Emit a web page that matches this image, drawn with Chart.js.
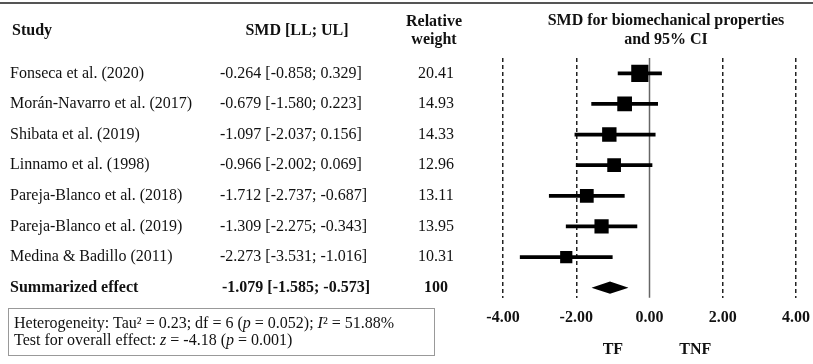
<!DOCTYPE html>
<html>
<head>
<meta charset="utf-8">
<script src="https://cdn.jsdelivr.net/npm/chart.js@4.4.0/dist/chart.umd.min.js"></script>
<style>
  html, body { margin: 0; padding: 0; background: #fff; }
  canvas { display: block; }
</style>
</head>
<body>
<canvas id="forest" width="813" height="364"></canvas>
<script>
// study rows
const studies = [
  'Fonseca et al. (2020)',
  'Morán-Navarro et al. (2017)',
  'Shibata et al. (2019)',
  'Linnamo et al. (1998)',
  'Pareja-Blanco et al. (2018)',
  'Pareja-Blanco et al. (2019)',
  'Medina & Badillo (2011)'
];
const smd = [-0.264, -0.679, -1.097, -0.966, -1.712, -1.309, -2.273];
const lower = [-0.858, -1.580, -2.037, -2.002, -2.737, -2.275, -3.531];
const upper = [0.329, 0.223, 0.156, 0.069, -0.687, -0.343, -1.016];
const weights = [20.41, 14.93, 14.33, 12.96, 13.11, 13.95, 10.31];

// pooled row
const summaryLabel = 'Summarized effect';
const summarySmd = -1.079;
const summaryLower = -1.585;
const summaryUpper = -0.573;
const summaryWeight = 100;

const xTicks = [-4, -2, 0, 2, 4];
const sideLabels = ['TF', 'TNF'];

const SERIF = '"Liberation Serif", "Times New Roman", serif';
const summaryRow = studies.length;
const fmt = v => v.toFixed(3);

function runs(ctx, parts, x, y, size) {
  // draws text pieces one after another, some in italic
  parts.forEach(([s, it]) => {
    ctx.font = (it ? 'italic ' : '') + size + 'px ' + SERIF;
    ctx.fillText(s, x, y);
    x += ctx.measureText(s).width;
  });
}

const tablePlugin = {
  id: 'tablePlugin',
  afterDraw(chart) {
    const ctx = chart.ctx;
    const ys = chart.scales.y;
    const xs = chart.scales.x;
    ctx.save();
    ctx.fillStyle = '#111';
    ctx.textBaseline = 'middle';

    // top rule
    ctx.strokeStyle = '#555';
    ctx.lineWidth = 2;
    ctx.beginPath();
    ctx.moveTo(0, 3);
    ctx.lineTo(813, 3);
    ctx.stroke();

    // headers
    ctx.font = 'bold 16px ' + SERIF;
    ctx.textAlign = 'left';
    ctx.fillText('Study', 12, 31);
    ctx.textAlign = 'center';
    ctx.fillText('SMD [LL; UL]', 297, 31);
    ctx.fillText('Relative', 434, 22);
    ctx.fillText('weight', 434, 40);
    ctx.fillText('SMD for biomechanical properties', 666, 21);
    ctx.fillText('and 95% CI', 666, 40);

    // study rows
    studies.forEach((s, i) => {
      const y = ys.getPixelForValue(i);
      ctx.font = '16px ' + SERIF;
      ctx.textAlign = 'left';
      ctx.fillText(s, 10, y);
      ctx.fillText(fmt(smd[i]) + ' [' + fmt(lower[i]) + '; ' + fmt(upper[i]) + ']', 220, y);
      ctx.textAlign = 'center';
      ctx.fillText(weights[i].toFixed(2), 436, y);
    });

    const sy = ys.getPixelForValue(summaryRow);
    ctx.font = 'bold 16px ' + SERIF;
    ctx.textAlign = 'left';
    ctx.fillText(summaryLabel, 10, sy);
    ctx.fillText(fmt(summarySmd) + ' [' + fmt(summaryLower) + '; ' + fmt(summaryUpper) + ']', 222, sy);
    ctx.textAlign = 'center';
    ctx.fillText(String(summaryWeight), 436, sy);

    // favours labels under the axis
    ctx.font = 'bold 16px ' + SERIF;
    ctx.fillText(sideLabels[0], xs.getPixelForValue(-1.0), 350);
    ctx.fillText(sideLabels[1], xs.getPixelForValue(1.25), 350);

    // heterogeneity box
    ctx.strokeStyle = '#999';
    ctx.lineWidth = 1;
    ctx.strokeRect(8.5, 308.5, 426, 47);
    ctx.textAlign = 'left';
    runs(ctx, [['Heterogeneity: Tau² = 0.23; df = 6 (', false], ['p', true], [' = 0.052); ', false], ['I', true], ['² = 51.88%', false]], 14, 324, 16);
    runs(ctx, [['Test for overall effect: ', false], ['z', true], [' = -4.18 (', false], ['p', true], [' = 0.001)', false]], 14, 341, 16);
    ctx.restore();
  }
};

new Chart(document.getElementById('forest'), {
  type: 'scatter',
  data: {
    datasets: [
      {
        type: 'scatter',
        label: 'SMD',
        data: studies.map((s, i) => ({ x: smd[i], y: i })),
        pointStyle: 'rect',
        pointRadius: weights.map(w => Math.sqrt(w) * 2.69),
        pointHoverRadius: weights.map(w => Math.sqrt(w) * 2.69),
        backgroundColor: '#000',
        borderWidth: 0,
        order: 0
      },
      {
        type: 'bar',
        label: '95% CI',
        indexAxis: 'y',
        data: studies.map((s, i) => ({ x: [lower[i], upper[i]], y: i })),
        backgroundColor: '#000',
        barThickness: 3,
        order: 1
      },
      {
        type: 'line',
        label: 'pooled top',
        data: [
          { x: summaryLower, y: summaryRow },
          { x: summarySmd, y: summaryRow - 0.2 },
          { x: summaryUpper, y: summaryRow }
        ],
        borderWidth: 0,
        pointRadius: 0,
        backgroundColor: '#000',
        fill: '+1',
        order: 2
      },
      {
        type: 'line',
        label: 'pooled bottom',
        data: [
          { x: summaryLower, y: summaryRow },
          { x: summarySmd, y: summaryRow + 0.2 },
          { x: summaryUpper, y: summaryRow }
        ],
        borderWidth: 0,
        pointRadius: 0,
        backgroundColor: '#000',
        fill: false,
        order: 3
      },
      {
        type: 'line',
        label: 'no effect',
        data: [{ x: 0, y: -0.6 }, { x: 0, y: 7.4 }],
        borderColor: '#666',
        borderWidth: 1.5,
        pointRadius: 0,
        fill: false,
        order: 4
      }
    ]
  },
  options: {
    responsive: false,
    animation: false,
    layout: { padding: { left: 503, right: 17, top: 58, bottom: 37 } },
    plugins: {
      legend: { display: false },
      tooltip: { enabled: false }
    },
    scales: {
      x: {
        type: 'linear',
        min: xTicks[0],
        max: xTicks[xTicks.length - 1],
        afterBuildTicks: axis => { axis.ticks = xTicks.map(v => ({ value: v })); },
        grid: {
          color: c => (c.tick && c.tick.value === 0) ? 'rgba(0,0,0,0)' : '#222',
          lineWidth: 1.5,
          drawTicks: true,
          tickLength: 10,
          tickColor: 'rgba(0,0,0,0)'
        },
        border: { display: false, dash: [4, 3] },
        ticks: {
          padding: 0,
          color: '#111',
          font: { family: SERIF, size: 16, weight: 'bold' },
          callback: v => v.toFixed(2)
        }
      },
      y: {
        type: 'linear',
        reverse: true,
        offset: false,
        min: -0.5,
        max: 7.33,
        display: false
      }
    }
  },
  plugins: [tablePlugin]
});
</script>
</body>
</html>
